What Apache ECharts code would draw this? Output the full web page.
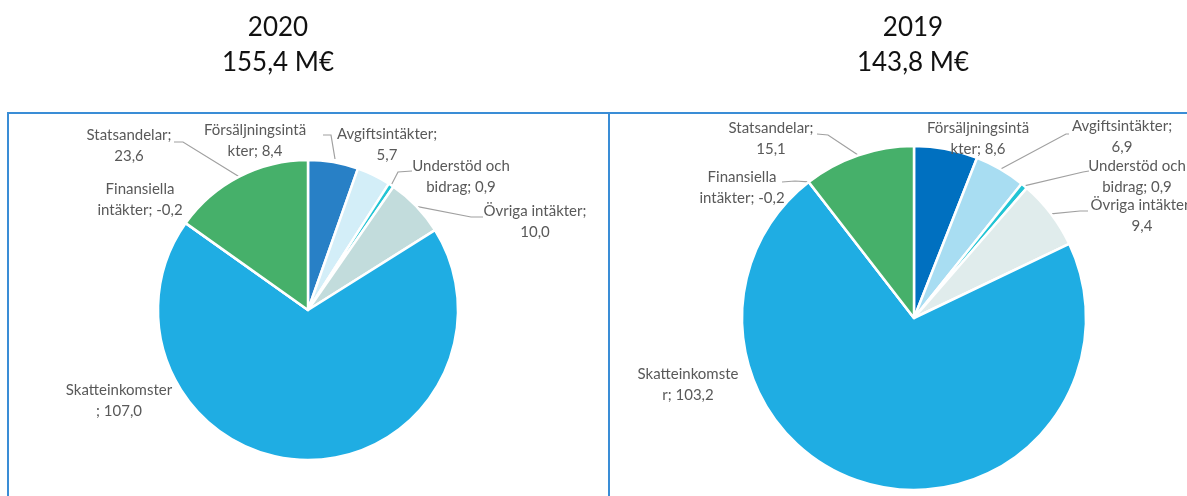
<!DOCTYPE html>
<html>
<head>
<meta charset="utf-8">
<script src="https://cdn.jsdelivr.net/npm/echarts@6/dist/echarts.min.js"></script>
<style>
  html, body { margin: 0; padding: 0; background: #fff; }
  #chart { width: 1187px; height: 496px; }
</style>
</head>
<body>
<div id="chart"></div>
<script>
// intäkter per år, M€
const years = ['2020', '2019'];
const totals = [155.4, 143.8];
const categories = ['Försäljningsintäkter', 'Avgiftsintäkter', 'Understöd och bidrag', 'Övriga intäkter', 'Skatteinkomster', 'Finansiella intäkter', 'Statsandelar'];
const values2020 = [8.4, 5.7, 0.9, 10.0, 107.0, -0.2, 23.6];
const values2019 = [8.6, 6.9, 0.9, 9.4, 103.2, -0.2, 15.1];
// radbrytningar som i originalet
const labels2020 = ['Försäljningsintä\nkter', 'Avgiftsintäkter;\n', 'Understöd och\nbidrag', 'Övriga intäkter;\n', 'Skatteinkomster\n', 'Finansiella\nintäkter', 'Statsandelar;\n'];
const labels2019 = ['Försäljningsintä\nkter', 'Avgiftsintäkter;\n', 'Understöd och\nbidrag', 'Övriga intäkter;\n', 'Skatteinkomste\nr', 'Finansiella\nintäkter', 'Statsandelar;\n'];

const colors2020 = ['#2880C6', '#D3EEF8', '#22C4D4', '#C2DCDC', '#1FADE3', '#2E9FD8', '#46B06A'];
const colors2019 = ['#0070C0', '#A8DDF2', '#22C4D4', '#E0ECEC', '#1FADE3', '#2E9FD8', '#46B06A'];

// etiketternas placering (mitten av textblocket) och knäckpunkter för linjen
const labelPos = [
  [
    { x: 255, y: 141 },
    { x: 387, y: 145, start: [335, 159], line: [[331, 135], [323, 135]] },
    { x: 461, y: 177, line: [[398, 172], [412, 171]] },
    { x: 535, y: 222, line: [[471, 217], [483, 217]] },
    { x: 119, y: 401 },
    { x: 140, y: 200 },
    { x: 129, y: 146, line: [[183, 142], [174, 142]] }
  ],
  [
    { x: 978, y: 139 },
    { x: 1122, y: 137, line: [[1066, 134], [1069, 134]] },
    { x: 1137, y: 177, line: [[1083, 172], [1089, 171]] },
    { x: 1142, y: 216, line: [[1080, 211], [1088, 211]] },
    { x: 688, y: 385 },
    { x: 742, y: 188, line: [[795, 181], [782, 182]] },
    { x: 771, y: 139, line: [[828, 135], [817, 134]] }
  ]
];

const fmt = v => v.toFixed(1).replace('.', ',');

function buildData(values, labels, colors, pos) {
  return categories.map((name, i) => ({
    name: name,
    value: Math.max(values[i], 0),
    label: { formatter: labels[i].indexOf(';\n') >= 0 ? labels[i] + fmt(values[i]) : labels[i] + '; ' + fmt(values[i]) },
    labelLine: { show: !!pos[i].line },
    itemStyle: { color: colors[i] }
  }));
}

const labelStyle = {
  show: true,
  position: 'outside',
  fontFamily: 'Lato',
  fontSize: 15,
  lineHeight: 21,
  color: '#595959',
  align: 'center',
  overflow: 'none'
};

function layoutLabel(params) {
  const p = labelPos[params.seriesIndex][params.dataIndex];
  const out = { x: p.x, y: p.y, align: 'center', verticalAlign: 'middle' };
  if (p.line && params.labelLinePoints) {
    out.labelLinePoints = [p.start || params.labelLinePoints[0], p.line[0], p.line[1]];
  }
  return out;
}

let chart = echarts.init(document.getElementById('chart'));
let option = {
  animation: false,
  title: [
    {
      text: years[0] + '\n' + fmt(totals[0]) + ' M€',
      left: 273, top: 5, textAlign: 'center',
      textStyle: { fontFamily: 'Lato', fontSize: 26, lineHeight: 35, fontWeight: 'normal', color: '#111' }
    },
    {
      text: years[1] + '\n' + fmt(totals[1]) + ' M€',
      left: 908, top: 5, textAlign: 'center',
      textStyle: { fontFamily: 'Lato', fontSize: 26, lineHeight: 35, fontWeight: 'normal', color: '#111' }
    }
  ],
  graphic: [
    { type: 'rect', shape: { x: 8, y: 113, width: 601, height: 400 }, style: { fill: 'none', stroke: '#3A8DD6', lineWidth: 2 }, silent: true },
    { type: 'rect', shape: { x: 609, y: 113, width: 600, height: 400 }, style: { fill: 'none', stroke: '#3A8DD6', lineWidth: 2 }, silent: true }
  ],
  series: [
    {
      name: years[0],
      type: 'pie',
      center: [308, 310],
      radius: 150,
      startAngle: 90,
      clockwise: true,
      itemStyle: { borderColor: '#fff', borderWidth: 2.5 },
      label: labelStyle,
      labelLine: { lineStyle: { color: '#A0A0A0', width: 1.2 } },
      labelLayout: layoutLabel,
      data: buildData(values2020, labels2020, colors2020, labelPos[0])
    },
    {
      name: years[1],
      type: 'pie',
      center: [914, 318],
      radius: 172,
      startAngle: 90,
      clockwise: true,
      itemStyle: { borderColor: '#fff', borderWidth: 2.5 },
      label: labelStyle,
      labelLine: { lineStyle: { color: '#A0A0A0', width: 1.2 } },
      labelLayout: layoutLabel,
      data: buildData(values2019, labels2019, colors2019, labelPos[1])
    }
  ]
};
chart.setOption(option);
</script>
</body>
</html>
